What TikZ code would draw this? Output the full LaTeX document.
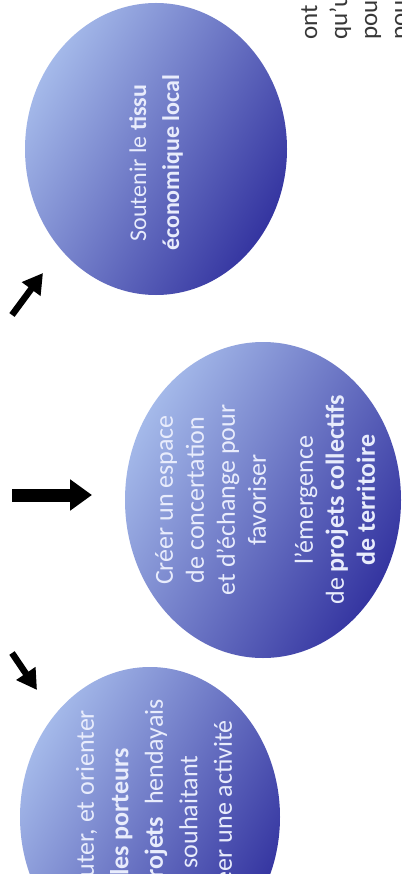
\documentclass[tikz,border=0pt]{standalone}
\usepackage{fontspec}
\setmainfont{Carlito}
\usetikzlibrary{shapes.geometric,arrows.meta}
\definecolor{blight}{RGB}{165,186,234}
\definecolor{bdark}{RGB}{52,52,160}
\definecolor{txtc}{RGB}{232,236,252}
\definecolor{paratext}{RGB}{55,55,55}
\begin{document}
\begin{tikzpicture}[x=1pt,y=-1pt,
  bubble/.style={ellipse, inner sep=0pt, outer sep=0pt, draw=none,
    top color=blight, bottom color=bdark, shading angle=60},
  bubbletext/.style={rotate=90, align=center, text=txtc, inner sep=0pt},
  sidetext/.style={rotate=90, anchor=base west, text=paratext, inner sep=0pt,
    font=\fontsize{25}{30}\selectfont},
  thinarrow/.style={line width=6.5pt, draw=black, -{Triangle[length=20pt,width=22pt]}},
  thickarrow/.style={line width=13pt, draw=black, -{Triangle[length=22pt,width=30pt]}}]
\fill[white] (0,0) rectangle (401,882);
\useasboundingbox (0,0) rectangle (401,882);
\begin{scope}
\clip (0,0) rectangle (401,873);
\node[bubble, minimum width=262pt, minimum height=292pt] (c1) at (156,149) {};
\node[bubble, minimum width=276pt, minimum height=316pt] (c2) at (263,500) {};
\node[bubble, minimum width=260pt, minimum height=300pt] (c3) at (150,817) {};
\node[bubbletext, font=\fontsize{24}{33}\selectfont] (t1) at (156,163)
  {Soutenir le \textbf{tissu}\\\textbf{économique local}};
\node[bubbletext, font=\fontsize{26}{31}\selectfont] (t2) at (265,500)
  {Créer un espace\\de concertation\\et d’échange pour\\favoriser\\[16pt]l’émergence\\de \textbf{projets collectifs}\\\textbf{de territoire}};
\node[bubbletext, font=\fontsize{26}{34.5}\selectfont] (t3) at (152,812)
  {Écouter, et orienter\\\textbf{les porteurs}\\de \textbf{projets}\ \ hendayais\\souhaitant\\créer une activité};
\node[sidetext] (s1) at (317,40) {ont};
\node[sidetext] (s2) at (347,40) {qu’un};
\node[sidetext] (s3) at (377,40) {pour};
\node[sidetext] (s4) at (407,40) {pour};
\end{scope}
\coordinate (a1s) at (12,315);
\coordinate (a1e) at (43,273);
\coordinate (a2s) at (12,495);
\coordinate (a2e) at (92,495);
\coordinate (a3s) at (12,653);
\coordinate (a3e) at (37,690);
\draw[thinarrow] (a1s) -- (a1e);
\draw[thickarrow] (a2s) -- (a2e);
\draw[thinarrow] (a3s) -- (a3e);
\end{tikzpicture}
\end{document}
